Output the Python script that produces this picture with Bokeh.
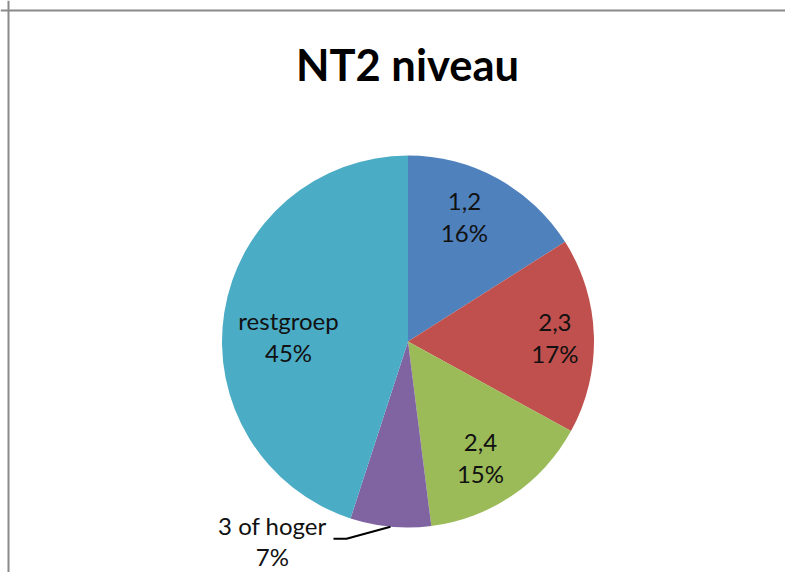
import numpy as np
from bokeh.plotting import figure
from bokeh.models import ColumnDataSource, Range1d, Label, Span
from bokeh.core.properties import value
from bokeh.embed import file_html
from bokeh.resources import INLINE

# ---- data ----
categories = ["1,2", "2,3", "2,4", "3 of hoger", "restgroep"]
percentages = [16, 17, 15, 7, 45]
colors = ["#4F81BD", "#C0504D", "#9BBB59", "#8064A2", "#4BACC6"]
title_text = "NT2 niveau"

# ---- layout (pixels) ----
W, H = 785, 572
CX, CY = 407.5, H - 341.0
R = 186.0
# label placement: radius factor and angular nudge (deg) per slice
label_rf = [0.737, 0.79, 0.735, 1.297, 0.643]
label_nudge = [-4.5, 0.2, 2.2, 28.8, -6.6]

vals = np.array(percentages, dtype=float)
frac = vals / vals.sum()
c1 = np.cumsum(frac)
c0 = c1 - frac
start = np.pi / 2 - 2 * np.pi * c1
end = np.pi / 2 - 2 * np.pi * c0

p = figure(width=W, height=H, output_backend="svg", toolbar_location=None,
           x_range=Range1d(0, W), y_range=Range1d(0, H),
           x_axis_type=None, y_axis_type=None, min_border=0,
           background_fill_color="white", border_fill_color="white")
p.grid.visible = False
p.outline_line_color = None

src = ColumnDataSource(dict(start=start, end=end, color=colors))
p.wedge(x=CX, y=CY, radius=R, start_angle="start", end_angle="end",
        direction="anticlock", fill_color="color", line_color=None, source=src)

# labels
mid_cw = (c0 + c1) / 2 * 360.0 + np.array(label_nudge)
ang = np.deg2rad(mid_cw)
lx = CX + np.array(label_rf) * R * np.sin(ang)
ly = CY + np.array(label_rf) * R * np.cos(ang)
texts = [f"{c}\n{v:.0f}%" for c, v in zip(categories, percentages)]
lsrc = ColumnDataSource(dict(x=lx, y=ly, t=texts))
p.text(x="x", y="y", text="t", source=lsrc, text_font=value("Lato"),
       text_font_size="24px", text_color="#111111", text_align="center",
       text_baseline="middle", text_line_height=1.1)

# leader line for "3 of hoger"
i = 3
ma = np.deg2rad((c0[i] + c1[i]) / 2 * 360.0)
ex, ey = CX + R * np.sin(ma), CY + R * np.cos(ma)
p.line(x=[ex, ex - 44, ex - 57], y=[ey, ey - 12, ey - 12],
       line_color="black", line_width=2)

# title
p.add_layout(Label(x=407, y=H - 63, x_units="screen", y_units="screen",
                   text=title_text, text_font="Lato", text_font_style="bold",
                   text_font_size="43.5px", text_align="center",
                   text_baseline="middle", text_color="black"))

# chart border (left and top)
p.add_layout(Span(location=8, dimension="height", line_color="#8a8a8a", line_width=2))
p.add_layout(Span(location=H - 10, dimension="width", line_color="#8a8a8a", line_width=2))

open("out.html", "w").write(file_html(p, INLINE))
